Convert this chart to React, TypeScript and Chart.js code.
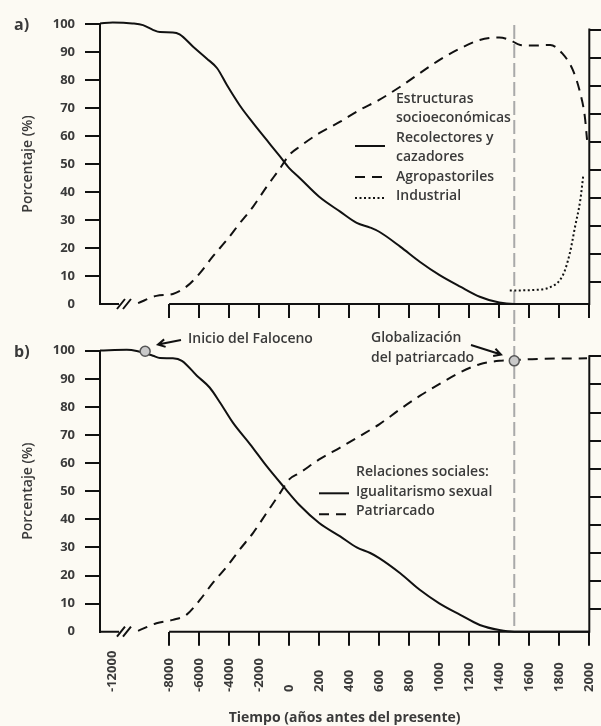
import React, { useEffect, useRef } from 'react';
import { Chart, registerables } from 'chart.js';

Chart.register(...registerables);

const FONT = '"Open Sans", "DejaVu Sans", sans-serif';
const TEXT = '#3a3a3a';
const INK = '#111111';
const BG = '#fcfaf3';
const GUIDE = '#a9a9a9';

// ---------- axis definitions ----------
const TICK_YEARS = [-12000, -8000, -6000, -4000, -2000, 0, 200, 400, 600, 800, 1000, 1200, 1400, 1600, 1800, 2000];
const TICK_LABELS = ['-12000', '-8000', '-6000', '-4000', '-2000', '0', '200', '400', '600', '800', '1000', '1200', '1400', '1600', '1800', '2000'];
const MARK_YEARS = [-8000, -6000, -4000, -2000, 0, 200, 400, 600, 800, 1000, 1200, 1400, 1600, 1800, 2000];
const AXIS_START_YEAR = -12900;
const AXIS_END_YEAR = 2000;
const BREAK_YEAR = -11200;
const GUIDE_YEAR = 1500;
const Y_TICKS_STEP = 10;
const RIGHT_TICKS = [8, 18, 28, 38, 48, 58, 68, 78, 88, 98];
const RIGHT_AXIS_TOP = 98.4;

const Y_TITLE = 'Porcentaje (%)';
const X_TITLE = 'Tiempo (años antes del presente)';

// ---------- panel a: socio-economic structures ----------
const GATHER_A_YEARS = [-12900, -12000, -10600, -9850, -9150, -8650, -7750, -7300, -6400, -5500, -4800, -4150, -3300, -2400, -1500, -600, 0, 70, 200, 340, 450, 540, 600, 740, 870, 1000, 1140, 1270, 1400, 1500, 2000];
const GATHER_A_VALUES = [100.2, 100.5, 100.2, 99.6, 97.9, 97.1, 97.0, 96.3, 91.9, 87.7, 84.2, 78.2, 71.0, 64.6, 58.6, 52.6, 48.5, 45.0, 38.3, 33.0, 29.0, 27.3, 25.8, 20.5, 15.1, 10.4, 6.2, 2.6, 0.5, 0, 0];

const AGRO_A_YEARS = [-10200, -8900, -7750, -6850, -5950, -5100, -4150, -3300, -2400, -1500, -600, 0, 70, 200, 340, 470, 600, 740, 870, 1000, 1140, 1270, 1400, 1470, 1540, 1620, 1740, 1820, 1890, 1940, 1970, 1985];
const AGRO_A_VALUES = [0.3, 2.9, 3.6, 6.2, 11.0, 16.9, 22.9, 28.8, 34.8, 41.9, 48.5, 53.2, 56.2, 61.0, 65.1, 69.3, 72.9, 77.6, 82.4, 87.1, 91.3, 94.3, 95.2, 94.3, 92.5, 92.3, 92.5, 89.5, 83.6, 75.2, 67.0, 58.6];

const IND_A_YEARS = [1470, 1625, 1740, 1825, 1870, 1905, 1940, 1960];
const IND_A_VALUES = [4.8, 5.0, 6.0, 10.4, 18.1, 27.6, 37.1, 46.0];

const LEGEND_A_LINES = ['Estructuras', 'socioeconómicas', 'Recolectores y', 'cazadores', 'Agropastoriles', 'Industrial'];

// ---------- panel b: social relations ----------
const EGAL_B_YEARS = [-12900, -11000, -10300, -9150, -8650, -7750, -7150, -6150, -5300, -4600, -3750, -2600, -1500, -400, 70, 200, 340, 450, 540, 600, 740, 870, 1000, 1140, 1270, 1400, 1500, 2000];
const EGAL_B_VALUES = [100.1, 100.3, 99.9, 98.2, 97.4, 97.3, 96.4, 91.1, 86.9, 81.5, 74.4, 66.7, 58.9, 51.8, 45.0, 38.7, 33.9, 30.0, 28.0, 26.2, 20.8, 14.9, 10.1, 6.0, 2.4, 0.6, 0, 0];

const PATR_B_YEARS = [-10200, -8900, -7750, -6850, -5950, -5100, -4150, -3300, -2400, -1500, -600, 0, 70, 200, 340, 470, 600, 740, 870, 1000, 1140, 1270, 1400, 1500, 1620, 1985];
const PATR_B_VALUES = [0.3, 3.0, 4.2, 6.0, 11.3, 17.3, 23.2, 29.2, 35.2, 42.3, 49.4, 54.2, 56.5, 61.3, 65.5, 69.6, 73.8, 79.2, 83.9, 88.1, 92.3, 95.2, 96.4, 96.6, 97.0, 97.3];

const MARKER_B_YEARS = [-9700, 1500];
const MARKER_B_VALUES = [99.8, 96.4];
const MARKER_B_LABELS = ['Inicio del Faloceno', 'Globalización', 'del patriarcado'];

const LEGEND_B_LINES = ['Relaciones sociales:', 'Igualitarismo sexual', 'Patriarcado'];

// piecewise time axis (broken before -8000, compressed BCE, expanded CE)
function toPos(year: number): number {
  if (year < -8000) return ((year + 8000) / 4000) * 1.88;
  if (year <= 0) return 4 + year / 2000;
  return 4 + year / 200;
}

function pts(years: number[], values: number[]) {
  return years.map((yr, i) => ({ x: toPos(yr), y: values[i] }));
}

const SOLID: number[] = [];
const DASHED = [10, 7];
const DOTTED = [2, 2.5];

function lineDs(label: string, data: any[], dash: number[]) {
  return {
    label,
    data,
    borderColor: INK,
    borderWidth: 2,
    borderDash: dash,
    pointRadius: 0,
    fill: false,
    cubicInterpolationMode: 'monotone',
    clip: false,
  };
}

function arrow(ctx: CanvasRenderingContext2D, x1: number, y1: number, x2: number, y2: number) {
  const a = Math.atan2(y2 - y1, x2 - x1);
  const L = 8;
  ctx.beginPath();
  ctx.moveTo(x1, y1);
  ctx.lineTo(x2, y2);
  ctx.moveTo(x2 - L * Math.cos(a - 0.5), y2 - L * Math.sin(a - 0.5));
  ctx.lineTo(x2, y2);
  ctx.lineTo(x2 - L * Math.cos(a + 0.5), y2 - L * Math.sin(a + 0.5));
  ctx.stroke();
}

function decoPlugin(panel: 'a' | 'b') {
  const isB = panel === 'b';
  return {
    id: 'deco_' + panel,
    beforeDatasetsDraw(chart: any) {
      const { ctx, chartArea: ca, scales } = chart;
      const gx = scales.x.getPixelForValue(toPos(GUIDE_YEAR));
      ctx.save();
      ctx.strokeStyle = GUIDE;
      ctx.lineWidth = 2;
      ctx.setLineDash([14, 5]);
      ctx.beginPath();
      ctx.moveTo(gx, isB ? 0 : scales.y.getPixelForValue(99.6));
      ctx.lineTo(gx, isB ? ca.bottom : chart.height);
      ctx.stroke();
      ctx.restore();
    },
    afterDraw(chart: any) {
      const { ctx, chartArea: ca, scales } = chart;
      const xs = scales.x;
      const y1 = scales.y1;
      ctx.save();
      ctx.strokeStyle = INK;
      ctx.lineWidth = 2;
      ctx.setLineDash([]);
      // x axis with break
      const bx = xs.getPixelForValue(toPos(BREAK_YEAR));
      const resume = xs.getPixelForValue(toPos(-8000));
      ctx.beginPath();
      ctx.moveTo(ca.left - 1, ca.bottom);
      ctx.lineTo(bx - 5, ca.bottom);
      ctx.moveTo(resume, ca.bottom);
      ctx.lineTo(ca.right + 1, ca.bottom);
      for (const dx of [-3, 3]) {
        ctx.moveTo(bx + dx - 4, ca.bottom + 5);
        ctx.lineTo(bx + dx + 4, ca.bottom - 5);
      }
      // right axis
      ctx.moveTo(ca.right, y1.getPixelForValue(RIGHT_AXIS_TOP));
      ctx.lineTo(ca.right, ca.bottom);
      ctx.stroke();

      // panel letter
      ctx.fillStyle = TEXT;
      ctx.font = `bold 16px ${FONT}`;
      ctx.textAlign = 'left';
      ctx.textBaseline = 'middle';
      ctx.fillText(isB ? 'b)' : 'a)', 14, 25);

      ctx.font = `600 14px ${FONT}`;
      if (!isB) {
        const ys = [99, 118.3, 138.3, 157.3, 176.7, 196];
        LEGEND_A_LINES.forEach((t, i) => ctx.fillText(t, 396, ys[i]));
        const samples: [number[], number][] = [[SOLID, 146], [DASHED, 177], [DOTTED, 198]];
        samples.forEach(([d, yy]) => {
          ctx.setLineDash(d);
          ctx.beginPath();
          ctx.moveTo(355, yy);
          ctx.lineTo(385, yy);
          ctx.stroke();
        });
        ctx.setLineDash([]);
      } else {
        const ys = [145.3, 164.7, 184];
        LEGEND_B_LINES.forEach((t, i) => ctx.fillText(t, 356, ys[i]));
        const samples: [number[], number][] = [[SOLID, 166.3], [DASHED, 187.3]];
        samples.forEach(([d, yy]) => {
          ctx.setLineDash(d);
          ctx.beginPath();
          ctx.moveTo(319, yy);
          ctx.lineTo(349, yy);
          ctx.stroke();
        });
        ctx.setLineDash([]);

        // annotations
        ctx.fillText(MARKER_B_LABELS[0], 188, 12.3);
        ctx.fillText(MARKER_B_LABELS[1], 371, 11.3);
        ctx.fillText(MARKER_B_LABELS[2], 371, 31.3);
        ctx.lineWidth = 2;
        arrow(ctx, 181, 13, 158, 17.5);
        arrow(ctx, 471, 18, 501, 27.5);

        // rotated x tick labels
        ctx.font = `bold 13px ${FONT}`;
        ctx.textAlign = 'left';
        ctx.textBaseline = 'middle';
        TICK_YEARS.forEach((yr, i) => {
          const px = xs.getPixelForValue(toPos(yr));
          ctx.save();
          ctx.translate(px, 365);
          ctx.rotate(-Math.PI / 2);
          ctx.fillText(TICK_LABELS[i], 0, 0);
          ctx.restore();
        });
      }
      ctx.restore();
    },
  };
}

function makeConfig(panel: 'a' | 'b'): any {
  const isB = panel === 'b';
  const height = isB ? 399 : 327;
  const plotTop = isB ? 23.7 : 24;
  const plotBottom = isB ? 304.7 : 304;
  const datasets: any[] = isB
    ? [
        {
          label: 'hitos',
          data: pts(MARKER_B_YEARS, MARKER_B_VALUES),
          showLine: false,
          pointRadius: 5,
          pointBackgroundColor: '#c9c9c9',
          pointBorderColor: '#555555',
          pointBorderWidth: 1.5,
          clip: false,
        },
        lineDs(LEGEND_B_LINES[1], pts(EGAL_B_YEARS, EGAL_B_VALUES), SOLID),
        lineDs(LEGEND_B_LINES[2], pts(PATR_B_YEARS, PATR_B_VALUES), DASHED),
      ]
    : [
        lineDs('Recolectores y cazadores', pts(GATHER_A_YEARS, GATHER_A_VALUES), SOLID),
        lineDs(LEGEND_A_LINES[4], pts(AGRO_A_YEARS, AGRO_A_VALUES), DASHED),
        lineDs(LEGEND_A_LINES[5], pts(IND_A_YEARS, IND_A_VALUES), DOTTED),
      ];
  return {
    type: 'line',
    data: { datasets },
    options: {
      animation: false,
      responsive: false,
      maintainAspectRatio: false,
      events: [],
      layout: { padding: { top: plotTop, left: 0, right: 0, bottom: 0 } },
      plugins: { legend: { display: false }, tooltip: { enabled: false } },
      scales: {
        x: {
          type: 'linear',
          min: toPos(AXIS_START_YEAR),
          max: toPos(AXIS_END_YEAR),
          afterBuildTicks: (s: any) => {
            s.ticks = MARK_YEARS.map((yr) => ({ value: toPos(yr) }));
          },
          afterFit: (s: any) => {
            s.height = height - plotBottom;
          },
          border: { display: false },
          grid: { drawOnChartArea: false, drawTicks: true, tickLength: 14, lineWidth: 2, tickWidth: 2, tickColor: INK },
          ticks: { display: false },
          title: isB
            ? { display: true, text: X_TITLE, color: TEXT, font: { family: FONT, size: 14, weight: 'bold' }, padding: 0 }
            : { display: false },
        },
        y: {
          type: 'linear',
          position: 'left',
          min: 0,
          max: 100,
          ticks: { stepSize: Y_TICKS_STEP, padding: 10, color: TEXT, font: { family: FONT, size: 13, weight: 'bold' } },
          grid: {
            drawOnChartArea: false,
            tickLength: 15,
            lineWidth: 2,
            tickWidth: 2,
            tickColor: (c: any) => (c.tick && c.tick.value === 0 ? 'rgba(0,0,0,0)' : INK),
          },
          border: { display: true, color: INK, width: 2 },
          title: { display: true, text: Y_TITLE, color: TEXT, font: { family: FONT, size: 14, weight: '600' }, padding: { top: 19.6, bottom: 0 } },
          afterFit: (s: any) => {
            s.width = 100;
          },
        },
        y1: {
          type: 'linear',
          position: 'right',
          min: 0,
          max: 100,
          afterBuildTicks: (s: any) => {
            s.ticks = RIGHT_TICKS.map((v) => ({ value: v }));
          },
          ticks: { display: false },
          grid: { drawOnChartArea: false, tickLength: 12, lineWidth: 2, tickWidth: 2, tickColor: INK },
          border: { display: false },
          afterFit: (s: any) => {
            s.width = 601 - 589.3;
          },
        },
      },
    },
    plugins: [decoPlugin(panel)],
  };
}

export default function App() {
  const refA = useRef<HTMLCanvasElement>(null);
  const refB = useRef<HTMLCanvasElement>(null);
  useEffect(() => {
    Chart.defaults.font.family = FONT;
    Chart.defaults.color = TEXT;
    const a = new Chart(refA.current as HTMLCanvasElement, makeConfig('a'));
    const b = new Chart(refB.current as HTMLCanvasElement, makeConfig('b'));
    return () => {
      a.destroy();
      b.destroy();
    };
  }, []);
  return (
    <div style={{ position: 'absolute', left: 0, top: 0, width: 601, height: 726, background: BG, overflow: 'hidden' }}>
      <canvas ref={refA} width={601} height={327} style={{ position: 'absolute', left: 0, top: 0, width: 601, height: 327 }} />
      <canvas ref={refB} width={601} height={399} style={{ position: 'absolute', left: 0, top: 327, width: 601, height: 399 }} />
    </div>
  );
}
